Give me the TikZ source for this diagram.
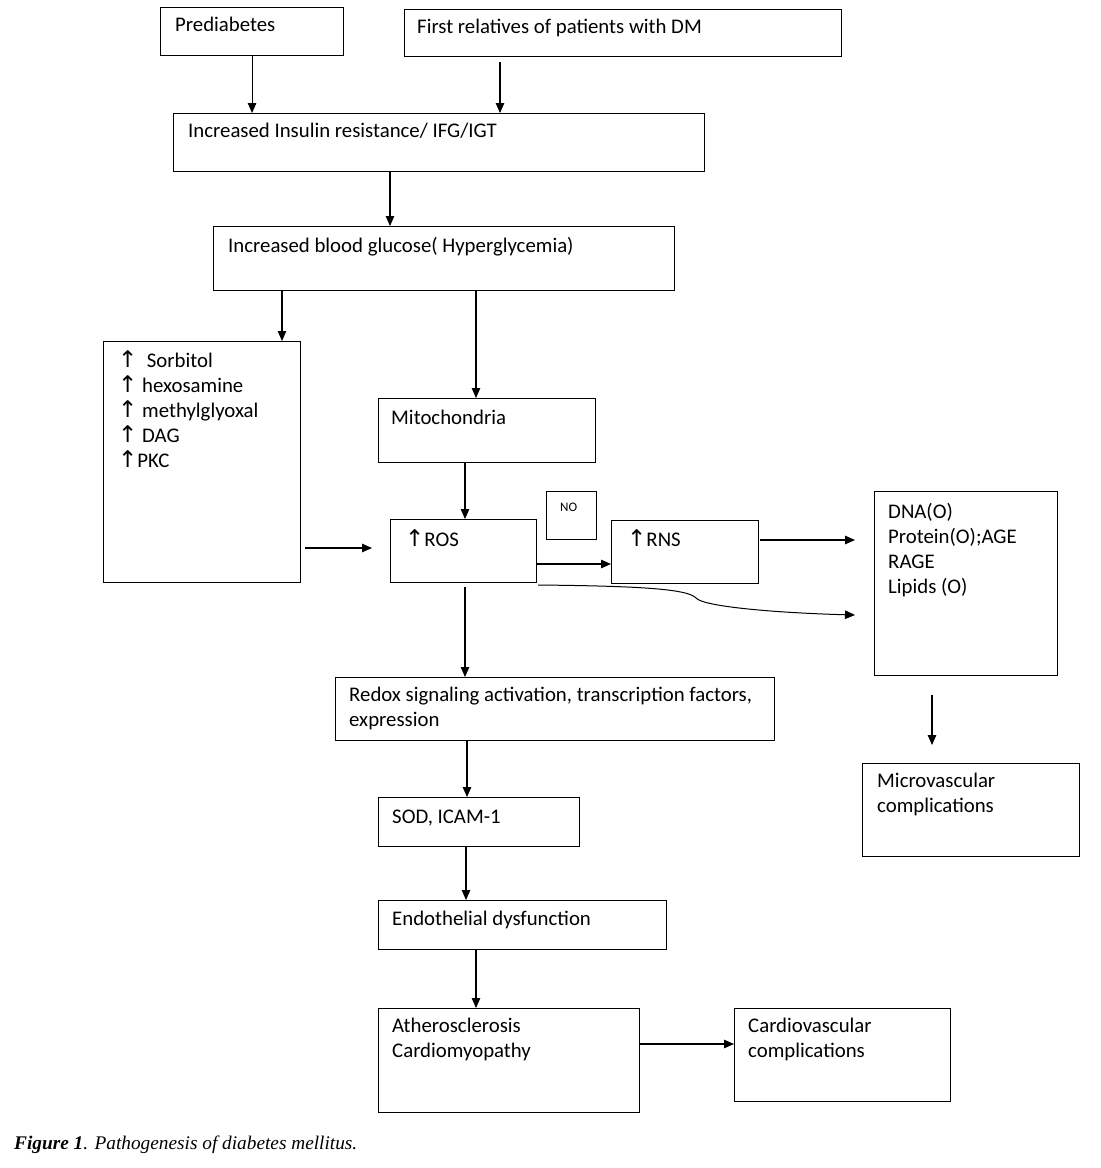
\documentclass[tikz,border=0pt]{standalone}
\usepackage{fontspec}
\setmainfont{Carlito}
\newfontfamily\arrfont{DejaVu Sans}
\newfontfamily\capfont{Liberation Serif}
\usetikzlibrary{arrows.meta,calc}
\newcommand{\upa}{{\arrfont\fontsize{23}{25}\selectfont ↑}}
\begin{document}
\begin{tikzpicture}[x=1pt,y=-1pt,
  box/.style={draw=black,line width=1.1pt,anchor=north west,inner sep=0pt},
  txt/.style={anchor=base west,inner sep=0pt,font=\fontsize{20.8}{25}\selectfont,align=left},
  arr/.style={-{Triangle[length=10pt,width=8.5pt]},line width=1.1pt}]
\useasboundingbox (0,0) rectangle (1101,1168);
\fill[white] (0,0) rectangle (1101,1168);
% boxes
\node[box,minimum width=183pt,minimum height=48pt] (pre) at (160,7) {};
\node[box,minimum width=437pt,minimum height=47pt] (fir) at (404,9) {};
\node[box,minimum width=531pt,minimum height=58pt] (ins) at (173,113) {};
\node[box,minimum width=461pt,minimum height=64pt] (glu) at (213,226) {};
\node[box,minimum width=197pt,minimum height=241pt] (sor) at (103,341) {};
\node[box,minimum width=217pt,minimum height=64pt] (mit) at (378,398) {};
\node[box,minimum width=146pt,minimum height=63pt] (ros) at (390,519) {};
\node[box,minimum width=50pt,minimum height=48pt] (no) at (546,491) {};
\node[box,minimum width=147pt,minimum height=63pt] (rns) at (611,520) {};
\node[box,minimum width=183pt,minimum height=184pt] (dna) at (874,491) {};
\node[box,minimum width=439pt,minimum height=63pt] (red) at (335,677) {};
\node[box,minimum width=217pt,minimum height=93pt] (mic) at (862,763) {};
\node[box,minimum width=201pt,minimum height=49pt] (sod) at (378,797) {};
\node[box,minimum width=288pt,minimum height=49pt] (end) at (378,900) {};
\node[box,minimum width=261pt,minimum height=104pt] (ath) at (378,1008) {};
\node[box,minimum width=216pt,minimum height=93pt] (car) at (734,1008) {};
% texts (multi-line nodes: y is the baseline of the last line)
\node[txt] (pre-t) at (175,31) {Prediabetes};
\node[txt] (fir-t) at (417,33) {First relatives of patients with DM};
\node[txt] (ins-t) at (188,137) {Increased Insulin resistance/ IFG/IGT};
\node[txt] (glu-t) at (228,252) {Increased blood glucose( Hyperglycemia)};
\node[txt] (sor-t) at (118,467) {\upa\ \ Sorbitol\\ \upa\ hexosamine\\ \upa\ methylglyoxal\\ \upa\ DAG\\ \upa PKC};
\node[txt] (mit-t) at (391,424) {Mitochondria};
\node[txt] (ros-t) at (405,546) {\upa ROS};
\node[txt,font=\fontsize{13}{14}\selectfont] (no-t) at (560,511) {NO};
\node[txt] (rns-t) at (627,546) {\upa RNS};
\node[txt] (dna-t) at (888,593) {DNA(O)\\ Protein(O);AGE\\ RAGE\\ Lipids (O)};
\node[txt] (red-t) at (349,726) {Redox signaling activation, transcription factors,\\ expression};
\node[txt] (mic-t) at (877,812) {Microvascular\\ complications};
\node[txt] (sod-t) at (392,823) {SOD, ICAM-1};
\node[txt] (end-t) at (392,925) {Endothelial dysfunction};
\node[txt] (ath-t) at (392,1057) {Atherosclerosis\\ Cardiomyopathy};
\node[txt] (car-t) at (748,1057) {Cardiovascular\\ complications};
\node[txt,font=\capfont\fontsize{19.3}{22}\selectfont] (cap) at (14,1149) {\textbf{\itshape Figure 1}\textit{. Pathogenesis of diabetes mellitus.}};
% helper coordinates
\coordinate (x390) at (390,0);
\coordinate (x282) at (282,0);
\coordinate (x476) at (476,0);
\coordinate (x465) at (465,0);
\coordinate (x467) at (467,0);
\coordinate (x466) at (466,0);
\coordinate (fstart) at (500,62);
\coordinate (sa) at (305,548);
\coordinate (sb) at (372,548);
\coordinate (ra) at (760,540);
\coordinate (rb) at (855,540);
\coordinate (ca) at (538,585);
\coordinate (cb) at (855,615);
\coordinate (da) at (932,695);
\coordinate (db) at (932,745);
\coordinate (ya) at (0,564);
\coordinate (yb) at (0,1044);
% connectors
\draw[arr] (pre.south) -- (pre.south |- ins.north);
\draw[arr] (fstart) -- (fstart |- ins.north);
\draw[arr] (ins.south -| x390) -- (glu.north -| x390);
\draw[arr] (glu.south -| x282) -- (sor.north -| x282);
\draw[arr] (glu.south -| x476) -- (mit.north -| x476);
\draw[arr] (sa) -- (sb);
\draw[arr] (mit.south -| x465) -- (ros.north -| x465);
\draw[arr] (ros.east |- ya) -- (rns.west |- ya);
\draw[arr] (ra) -- (rb);
\draw[arr,line width=1pt] (ca) .. controls (640,586) and (688,589) .. (696,598)
   .. controls (704,607) and (780,613) .. (cb);
\draw[arr] ([yshift=-4pt]ros.south -| x465) -- (red.north -| x465);
\draw[arr] (da) -- (db);
\draw[arr] (red.south -| x467) -- (sod.north -| x467);
\draw[arr] (sod.south -| x466) -- (end.north -| x466);
\draw[arr] (end.south -| x476) -- (ath.north -| x476);
\draw[arr] (ath.east |- yb) -- (car.west |- yb);
\end{tikzpicture}
\end{document}
